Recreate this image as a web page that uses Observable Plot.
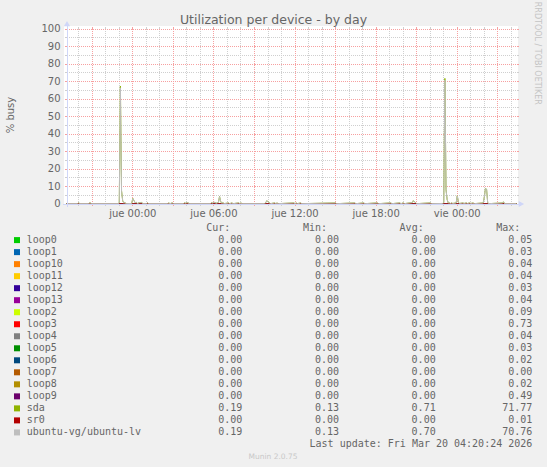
<!DOCTYPE html>
<html><head><meta charset="utf-8">
<script src="https://cdn.jsdelivr.net/npm/d3@7"></script>
<script src="https://cdn.jsdelivr.net/npm/@observablehq/plot@0.6"></script>
<style>
html,body{margin:0;padding:0;background:#F0F0F0;}
#chart{position:relative;width:547px;height:467px;background:#F0F0F0;overflow:hidden;}
#chart > svg{position:absolute;left:0;top:0;}
</style></head><body><div id="chart"></div>
<script>
// ---- data ----
const titleText = "Utilization per device - by day";
const yLabelText = "% busy";
const domainStart = "2026-03-18T19:08";
const domainEnd = "2026-03-20T04:25";
const yTicks = [0,10,20,30,40,50,60,70,80,90,100];
const yMinorTicks = [5,15,25,35,45,55,65,75,85,95];
const xTickTimes = ["2026-03-19T00:00","2026-03-19T06:00","2026-03-19T12:00","2026-03-19T18:00","2026-03-20T00:00"];
const xTickLabels = ["jue 00:00","jue 06:00","jue 12:00","jue 18:00","vie 00:00"];

const devices = ["loop0","loop1","loop10","loop11","loop12","loop13","loop2","loop3","loop4","loop5","loop6","loop7","loop8","loop9","sda","sr0","ubuntu-vg/ubuntu-lv"];
const deviceColors = ["#00CC00","#0066B3","#FF8000","#FFCC00","#330099","#990099","#CCFF00","#FF0000","#808080","#008F00","#00487D","#B35A00","#B38F00","#6B006B","#8FB300","#B30000","#BEBEBE"];
const curValues = [0,0,0,0,0,0,0,0,0,0,0,0,0,0,0.19,0,0.19];
const minValues = [0,0,0,0,0,0,0,0,0,0,0,0,0,0,0.13,0,0.13];
const avgValues = [0,0,0,0,0,0,0,0,0,0,0,0,0,0,0.71,0,0.70];
const maxValues = [0.05,0.03,0.04,0.04,0.03,0.04,0.09,0.73,0.04,0.03,0.02,0.00,0.02,0.49,71.77,0.01,70.76];
const lastUpdate = "Last update: Fri Mar 20 04:20:24 2026";
const muninText = "Munin 2.0.75";
const watermark = "RRDTOOL / TOBI OETIKER";

// near-zero devices (loops, sr0)
const zeroTime = ["2026-03-18T19:08","2026-03-20T04:20"];
const zeroBusy = [0,0];

// sda and ubuntu-lv samples
const sdaTime = [
"2026-03-18T19:08","2026-03-18T19:55","2026-03-18T20:00","2026-03-18T20:05",
"2026-03-18T20:45","2026-03-18T20:50","2026-03-18T20:55",
"2026-03-18T22:55","2026-03-18T23:00","2026-03-18T23:05","2026-03-18T23:10","2026-03-18T23:15","2026-03-18T23:20","2026-03-18T23:25","2026-03-18T23:30",
"2026-03-18T23:55","2026-03-19T00:00","2026-03-19T00:05","2026-03-19T00:10","2026-03-19T00:15","2026-03-19T00:20",
"2026-03-19T00:30","2026-03-19T00:35","2026-03-19T00:40","2026-03-19T00:45",
"2026-03-19T01:00","2026-03-19T01:05","2026-03-19T01:10",
"2026-03-19T02:35","2026-03-19T02:40","2026-03-19T02:45","2026-03-19T02:55","2026-03-19T03:00",
"2026-03-19T03:45","2026-03-19T03:50","2026-03-19T03:55","2026-03-19T04:00","2026-03-19T04:05","2026-03-19T04:10",
"2026-03-19T05:45","2026-03-19T05:50","2026-03-19T05:55","2026-03-19T06:00","2026-03-19T06:05","2026-03-19T06:10",
"2026-03-19T06:20","2026-03-19T06:25","2026-03-19T06:30","2026-03-19T06:35","2026-03-19T06:40","2026-03-19T06:45",
"2026-03-19T07:05","2026-03-19T07:10","2026-03-19T07:20","2026-03-19T07:25",
"2026-03-19T07:50","2026-03-19T07:55","2026-03-19T08:00","2026-03-19T08:05",
"2026-03-19T09:45","2026-03-19T09:50","2026-03-19T09:55","2026-03-19T10:00","2026-03-19T10:05","2026-03-19T10:10",
"2026-03-19T10:30","2026-03-19T10:35","2026-03-19T10:40","2026-03-19T10:45",
"2026-03-19T11:55","2026-03-19T12:00","2026-03-19T12:05","2026-03-19T12:10",
"2026-03-19T12:25","2026-03-19T12:30",
"2026-03-19T15:00","2026-03-19T15:05",
"2026-03-19T16:25","2026-03-19T16:30",
"2026-03-19T17:05","2026-03-19T17:10",
"2026-03-19T18:05","2026-03-19T18:10",
"2026-03-19T19:05","2026-03-19T19:10",
"2026-03-19T19:45","2026-03-19T19:50",
"2026-03-19T20:00","2026-03-19T20:05",
"2026-03-19T20:40","2026-03-19T20:45","2026-03-19T20:50","2026-03-19T20:55","2026-03-19T21:00",
"2026-03-19T22:00","2026-03-19T22:05",
"2026-03-19T22:55","2026-03-19T23:00","2026-03-19T23:05","2026-03-19T23:10","2026-03-19T23:15","2026-03-19T23:20","2026-03-19T23:25","2026-03-19T23:30","2026-03-19T23:35","2026-03-19T23:40",
"2026-03-19T23:55","2026-03-20T00:00","2026-03-20T00:05","2026-03-20T00:10",
"2026-03-20T00:25","2026-03-20T00:30","2026-03-20T00:40","2026-03-20T00:45","2026-03-20T00:55","2026-03-20T01:00","2026-03-20T01:10","2026-03-20T01:15",
"2026-03-20T01:55","2026-03-20T02:00","2026-03-20T02:05","2026-03-20T02:10","2026-03-20T02:15","2026-03-20T02:20",
"2026-03-20T03:20","2026-03-20T03:25","2026-03-20T03:30",
"2026-03-20T04:20"
];
const sdaBusy = [
0.2,0.2,0.7,0.2,
0.2,0.8,0.2,
0.2,0.6,67.4,7.6,2.0,0.5,0.8,0.2,
0.3,3.2,2.0,0.8,1.0,0.3,
0.8,0.8,0.8,0.2,
0.2,0.7,0.2,
0.2,0.6,0.2,0.6,0.2,
0.2,0.7,0.4,0.8,0.7,0.2,
0.2,0.8,0.5,1.0,0.8,0.4,
1.0,4.3,1.5,0.3,0.8,0.2,
0.6,0.2,0.6,0.2,
0.6,0.2,0.6,0.2,
0.2,0.8,1.9,1.2,0.8,0.2,
0.6,0.2,0.6,0.2,
0.6,0.2,0.6,0.2,
0.6,0.2,
0.6,0.2,
0.6,0.2,
0.6,0.2,
0.6,0.2,
0.6,0.2,
0.6,0.2,
0.6,0.2,
0.8,1.9,1.2,0.8,0.2,
0.6,0.2,
0.3,0.8,71.77,8.2,2.5,0.6,0.6,0.3,0.6,0.3,
0.6,4.7,1.0,0.3,
0.6,0.3,0.6,0.3,0.6,0.3,0.6,0.2,
0.6,4.0,8.9,8.5,0.6,0.2,
0.6,1.2,0.2,
0.19
];
const lvBusy = [
0.2,0.2,0.7,0.2,
0.2,0.8,0.2,
0.2,0.6,66.4,7.4,2.0,0.5,0.8,0.2,
0.3,3.1,2.0,0.8,1.0,0.3,
0.8,0.8,0.8,0.2,
0.2,0.7,0.2,
0.2,0.6,0.2,0.6,0.2,
0.2,0.7,0.4,0.8,0.7,0.2,
0.2,0.8,0.5,1.0,0.8,0.4,
1.0,4.2,1.5,0.3,0.8,0.2,
0.6,0.2,0.6,0.2,
0.6,0.2,0.6,0.2,
0.2,0.8,1.9,1.2,0.8,0.2,
0.6,0.2,0.6,0.2,
0.6,0.2,0.6,0.2,
0.6,0.2,
0.6,0.2,
0.6,0.2,
0.6,0.2,
0.6,0.2,
0.6,0.2,
0.6,0.2,
0.6,0.2,
0.8,1.9,1.2,0.8,0.2,
0.6,0.2,
0.3,0.8,70.76,8.0,2.5,0.6,0.6,0.3,0.6,0.3,
0.6,4.6,1.0,0.3,
0.6,0.3,0.6,0.3,0.6,0.3,0.6,0.2,
0.6,4.0,8.8,8.4,0.6,0.2,
0.6,1.2,0.2,
0.19
];

// ---- styles ----
const FONT = "#666666";
const AXIS = "#CFD6F8";
const GRID = "#CFCFCF";
const MGRID = "#F7A0A0";

const parseTime = d3.timeParse("%Y-%m-%dT%H:%M");
const t0 = parseTime(domainStart), t1 = parseTime(domainEnd);
const hours = d3.timeHour.range(d3.timeHour.ceil(t0), t1);
const hourMajor = hours.filter(d => d.getHours() % 3 === 0);
const hourMinor = hours.filter(d => d.getHours() % 3 !== 0);

const W = 547, H = 222, mL = 66.5, mR = 30.5, mT = 28.5, mB = 18.5;
const innerH = H - mT - mB, innerW = W - mL - mR;

const sdaIdx = d3.range(sdaTime.length);
const zeroIdx = d3.range(zeroTime.length);

const marks = [
  Plot.frame({fill: "#FFFFFF", stroke: null, insetLeft: -3, insetRight: -1, insetTop: -3, insetBottom: 0}),
  // minor grid
  Plot.ruleY(yMinorTicks, {y: d => d, stroke: GRID, strokeDasharray: "1,1", shapeRendering: "crispEdges"}),
  Plot.ruleY(yMinorTicks, {y: d => d, stroke: GRID, insetLeft: -2, insetRight: innerW, shapeRendering: "crispEdges"}),
  Plot.ruleY(yMinorTicks, {y: d => d, stroke: GRID, insetLeft: innerW, insetRight: -2, shapeRendering: "crispEdges"}),
  Plot.ruleX(hourMinor, {x: d => d, stroke: GRID, strokeDasharray: "1,1", shapeRendering: "crispEdges"}),
  Plot.ruleX(hourMinor, {x: d => d, stroke: GRID, insetTop: innerH, insetBottom: -2, shapeRendering: "crispEdges"}),
  Plot.ruleX(hourMinor, {x: d => d, stroke: GRID, insetTop: -2, insetBottom: innerH, shapeRendering: "crispEdges"}),
  // major grid
  Plot.ruleY(yTicks, {y: d => d, stroke: MGRID, strokeDasharray: "1,1", shapeRendering: "crispEdges"}),
  Plot.ruleY(yTicks, {y: d => d, stroke: MGRID, insetLeft: -2, insetRight: innerW, shapeRendering: "crispEdges"}),
  Plot.ruleY(yTicks, {y: d => d, stroke: MGRID, insetLeft: innerW, insetRight: -2, shapeRendering: "crispEdges"}),
  Plot.ruleX(hourMajor, {x: d => d, stroke: MGRID, strokeDasharray: "1,1", shapeRendering: "crispEdges"}),
  Plot.ruleX(hourMajor, {x: d => d, stroke: MGRID, insetTop: innerH, insetBottom: -2, shapeRendering: "crispEdges"}),
  Plot.ruleX(hourMajor, {x: d => d, stroke: MGRID, insetTop: -2, insetBottom: innerH, shapeRendering: "crispEdges"})
];
// data lines in munin drawing order
devices.forEach((name, k) => {
  if (name === "sda") {
    marks.push(Plot.line(sdaIdx, {x: i => parseTime(sdaTime[i]), y: i => sdaBusy[i], stroke: deviceColors[k], strokeWidth: 1}));
  } else if (name === "ubuntu-vg/ubuntu-lv") {
    marks.push(Plot.line(sdaIdx, {x: i => parseTime(sdaTime[i]), y: i => lvBusy[i], stroke: deviceColors[k], strokeWidth: 1}));
  } else {
    marks.push(Plot.line(zeroIdx, {x: i => parseTime(zeroTime[i]), y: i => zeroBusy[i], stroke: deviceColors[k], strokeWidth: 1}));
  }
});
marks.push(
  Plot.ruleY([0], {y: d => d, stroke: AXIS, insetLeft: -4, insetRight: -2, shapeRendering: "crispEdges"}),
  Plot.ruleX([t0], {x: d => d, stroke: AXIS, insetTop: -4, insetBottom: -3, shapeRendering: "crispEdges"}),
  Plot.dot([0], {frameAnchor: "bottom-right", symbol: "triangle", r: 2.3, rotate: 90, dx: 3.5, fill: AXIS, stroke: null}),
  Plot.dot([0], {frameAnchor: "top-left", symbol: "triangle", r: 2.3, dy: -4.5, fill: AXIS, stroke: null}),
  Plot.text(xTickTimes, {x: d => parseTime(d), text: (d, i) => xTickLabels[i], frameAnchor: "bottom", lineAnchor: "bottom", dy: 13.2, fontSize: 10, fill: FONT}),
  Plot.text(yTicks, {y: d => d, text: d => String(d), frameAnchor: "left", textAnchor: "end", dx: -6.5, fontSize: 10, fill: FONT})
);

const plot = Plot.plot({
  width: W, height: H,
  marginLeft: mL, marginRight: mR, marginTop: mT, marginBottom: mB,
  x: {type: "time", domain: [t0, t1], axis: null},
  y: {domain: [0, 100], axis: null},
  style: {background: "transparent", fontFamily: "'DejaVu Sans', sans-serif", fontSize: "10px", overflow: "visible", maxWidth: "none"},
  marks
});
const chart = document.getElementById("chart");
chart.appendChild(plot);

// ---- texts, legend ----
const svg = d3.create("svg").attr("width", W).attr("height", 467)
  .style("font-family", "'DejaVu Sans', sans-serif");
svg.append("text").attr("x", 273.5).attr("y", 24).attr("text-anchor", "middle")
  .attr("font-size", 12.5).attr("fill", FONT).text(titleText);
svg.append("text").attr("transform", "translate(13.6,115) rotate(-90)").attr("text-anchor", "middle")
  .attr("font-size", 10).attr("fill", FONT).text(yLabelText);
svg.append("text").attr("transform", "translate(534.6,53.3) rotate(90)").attr("text-anchor", "middle")
  .attr("font-size", 8).attr("fill", "#C4C4C4").text(watermark);

const mono = "'DejaVu Sans Mono', monospace";
const colEnds = [242.3, 339, 435.7, 532.3];
const headers = ["Cur:", "Min:", "Avg:", "Max:"];
const leg = svg.append("g").attr("font-family", mono).attr("font-size", 10).attr("fill", FONT);
headers.forEach((h, j) => {
  leg.append("text").attr("x", colEnds[j] - 12).attr("y", 230.7).attr("text-anchor", "end").text(h);
});
devices.forEach((name, i) => {
  const yb = 242.7 + 12.02 * i;
  leg.append("rect").attr("x", 14).attr("y", yb - 5.6).attr("width", 6).attr("height", 6).attr("fill", deviceColors[i]);
  leg.append("text").attr("x", 26.7).attr("y", yb).text(name);
  [curValues[i], minValues[i], avgValues[i], maxValues[i]].forEach((v, j) => {
    leg.append("text").attr("x", colEnds[j]).attr("y", yb).attr("text-anchor", "end").text(v.toFixed(2));
  });
});
leg.append("text").attr("x", 532.3).attr("y", 446.8).attr("text-anchor", "end").text(lastUpdate);
svg.append("text").attr("x", 273).attr("y", 459).attr("text-anchor", "middle")
  .attr("font-size", 7.5).attr("fill", "#C8C8C8").text(muninText);
chart.appendChild(svg.node());
</script>
</body></html>
